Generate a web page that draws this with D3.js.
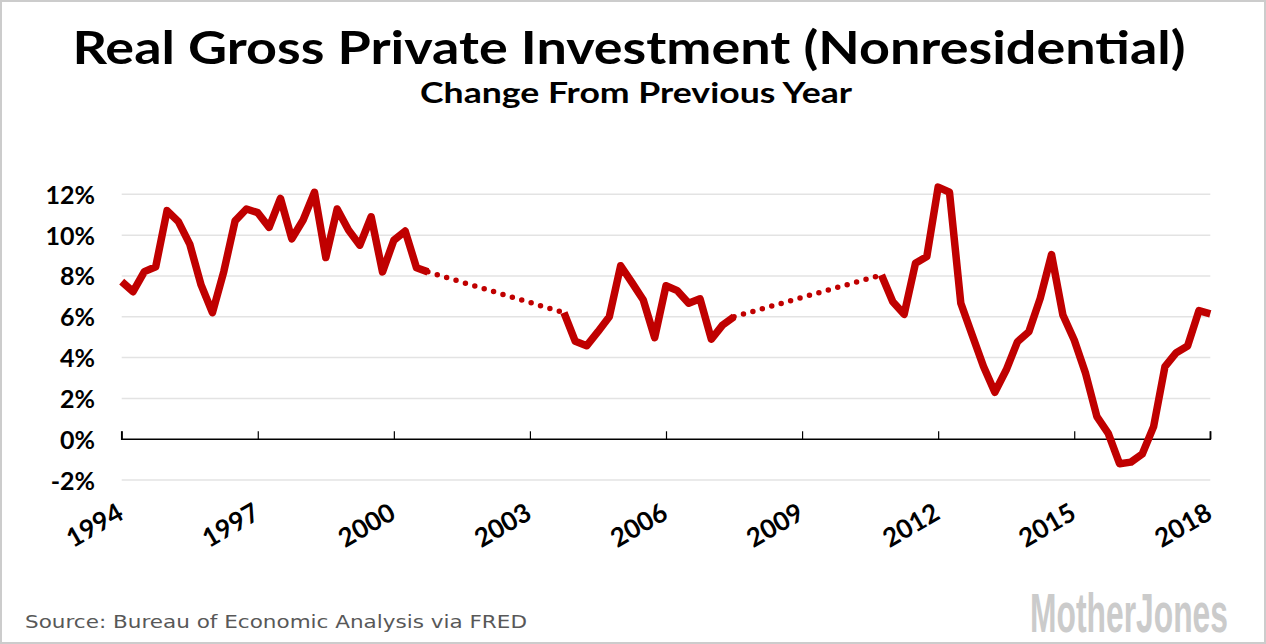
<!DOCTYPE html>
<html>
<head>
<meta charset="utf-8">
<script src="https://cdn.jsdelivr.net/npm/d3@7"></script>
<style>
  html, body { margin: 0; padding: 0; background: #fff; }
  svg { display: block; }
</style>
</head>
<body>
<svg id="chart" width="1266" height="644"></svg>
<script>
// ---- Data (quarterly, 1994 Q1 .. 2018 Q1; null = not shown, bridged with dots) ----
const startYear = 1994;
const values = [
  7.72, 7.23, 8.21, 8.45, 11.2, 10.66, 9.56, 7.56, 6.2, 8.21, 10.7, 11.28,
  11.1, 10.38, 11.8, 9.82, 10.74, 12.1, 8.9, 11.28, 10.25, 9.51, 10.9, 8.2,
  9.75, 10.2, 8.4, 8.2,
  null, null, null, null, null, null, null, null, null, null, null,
  6.2, 4.8, 4.58, 5.27, 6.0, 8.5, 7.67, 6.82, 4.98, 7.52, 7.28, 6.66, 6.88,
  4.9, 5.6, 6.0,
  null, null, null, null, null, null, null, null, null, null, null, null,
  8.05, 6.74, 6.12, 8.62, 8.95, 12.35, 12.1, 6.66, 5.11, 3.56, 2.3, 3.39,
  4.78, 5.27, 6.9, 9.05, 6.09, 4.86, 3.23, 1.11, 0.29, -1.2, -1.12, -0.72,
  0.62, 3.56, 4.24, 4.57, 6.3, 6.14
];
const gaps = [[27, 39], [54, 67]];          // index pairs bridged by a dotted line
const yGridValues = [-2, 2, 4, 6, 8, 10, 12];
const yTickLabels = ["-2%", "0%", "2%", "4%", "6%", "8%", "10%", "12%"];
const yTickValues = [-2, 0, 2, 4, 6, 8, 10, 12];
const xTickYears = [1994, 1997, 2000, 2003, 2006, 2009, 2012, 2015, 2018];
const titleText = "Real Gross Private Investment (Nonresidential)";
const subtitleText = "Change From Previous Year";
const sourceText = "Source: Bureau of Economic Analysis via FRED";
const logoText = "MotherJones";

const data = values.map((v, i) => ({ t: startYear + i / 4, v }));

// ---- Layout ----
const svg = d3.select("#chart");
const W = 1266, H = 644;
const red = "#c00000";
const font = "Lato, 'Open Sans', sans-serif";

svg.append("rect").attr("x", 1).attr("y", 1).attr("width", W - 2).attr("height", H - 2)
  .attr("fill", "#fff").attr("stroke", "#cccccc").attr("stroke-width", 2);

const x = d3.scaleLinear().domain([1994, 2018]).range([121.7, 1210.3]);
const y = d3.scaleLinear().domain([-2, 12]).range([480.1, 194.3]);

// Title
svg.append("text").attr("x", 629).attr("y", 64).attr("text-anchor", "middle")
  .attr("font-family", font).attr("font-weight", 700).attr("font-size", 46)
  .attr("textLength", 1113).attr("lengthAdjust", "spacingAndGlyphs")
  .attr("fill", "#000").text(titleText);
svg.append("text").attr("x", 636).attr("y", 103).attr("text-anchor", "middle")
  .attr("font-family", font).attr("font-weight", 700).attr("font-size", 28)
  .attr("textLength", 432).attr("lengthAdjust", "spacingAndGlyphs")
  .attr("fill", "#000").text(subtitleText);

// Gridlines
svg.append("g").selectAll("line").data(yGridValues).join("line")
  .attr("x1", x(1994)).attr("x2", x(2018))
  .attr("y1", d => y(d)).attr("y2", d => y(d))
  .attr("stroke", "#e3e3e3").attr("stroke-width", 1.5);

// Y labels
const yAxis = d3.axisLeft(y).tickValues(yTickValues)
  .tickFormat((d, i) => yTickLabels[i]).tickSize(0).tickPadding(0);
const gy = svg.append("g").attr("transform", "translate(95,0)").call(yAxis);
gy.select(".domain").remove();
gy.selectAll("text").attr("font-family", font).attr("font-weight", 700)
  .attr("font-size", 25).attr("fill", "#000").attr("dy", "0.36em");

// X axis (ticks pointing up)
const xAxis = d3.axisTop(x).tickValues(xTickYears).tickSize(8).tickFormat("");
const gx = svg.append("g").attr("transform", `translate(0,${y(0)})`).call(xAxis);
gx.select(".domain").attr("d", `M${x(1994)},-8V0H${x(2018)}V-8`).attr("stroke", "#000").attr("stroke-width", 1.5);
gx.selectAll(".tick line").attr("stroke", "#000").attr("stroke-width", 1.2);

// X labels rotated
svg.append("g").selectAll("text").data(xTickYears).join("text")
  .attr("transform", d => `translate(${x(d) + 3.5},518) rotate(-30)`)
  .attr("text-anchor", "end")
  .attr("font-family", font).attr("font-weight", 700).attr("font-size", 26)
  .attr("fill", "#000").text(d => d);

// Solid line
const line = d3.line().defined(d => d.v !== null).x(d => x(d.t)).y(d => y(d.v));
svg.append("path").datum(data).attr("d", line)
  .attr("fill", "none").attr("stroke", red).attr("stroke-width", 7.5)
  .attr("stroke-linejoin", "round").attr("stroke-linecap", "butt");

// Dotted bridges
const bridge = d3.line().x(d => x(d.t)).y(d => y(d.v));
svg.append("g").selectAll("path").data(gaps).join("path")
  .attr("d", g => bridge([data[g[0]], data[g[1]]]))
  .attr("fill", "none").attr("stroke", red).attr("stroke-width", 5.5)
  .attr("stroke-linecap", "round").attr("stroke-dasharray", "0 9.8")
  .attr("stroke-dashoffset", -9.8);

// Source
svg.append("text").attr("x", 25).attr("y", 628)
  .attr("font-family", "'DejaVu Sans', Verdana, sans-serif").attr("font-size", 18)
  .attr("textLength", 502).attr("lengthAdjust", "spacingAndGlyphs")
  .attr("fill", "#585858").text(sourceText);

// Logo (condensed by a horizontal scale so its box stays inside the frame)
const logo = svg.append("text")
  .attr("font-family", "'Liberation Sans Narrow', 'Arial Narrow', sans-serif")
  .attr("font-weight", 700).attr("font-size", 56)
  .attr("fill", "#cbcbcb").text(logoText);
const natural = logo.node().getComputedTextLength() || 300;
logo.attr("transform", `translate(1030,632) scale(${198 / natural},1)`);
</script>
</body>
</html>
